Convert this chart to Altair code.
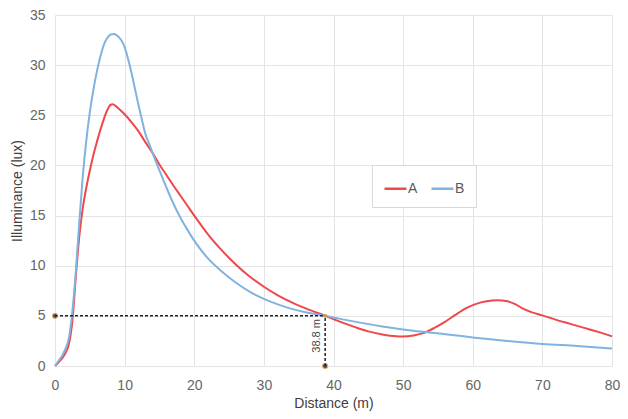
import altair as alt
import pandas as pd

# Series A (red)
a_x = [0, 0.5, 1, 1.5, 2, 2.5, 3, 3.5, 4, 4.5, 5, 5.5, 6, 6.5, 7, 7.5, 8, 8.3, 9, 10, 11, 12,
       13, 14.2, 15, 16, 17, 18, 19, 20, 22, 24, 26, 28, 30, 32, 34, 36, 38.8, 41, 43, 45, 47,
       49, 50, 51.5, 53, 54.5, 56, 57.5, 59, 60.5, 62, 63.5, 65, 66, 67, 68.5, 70, 72, 74, 76,
       78, 80]
a_y = [0, 0.35, 0.75, 1.3, 2.2, 4.5, 9, 13, 15.8, 17.8, 19.5, 21, 22.3, 23.5, 24.6, 25.5, 26.05,
       26.1, 25.75, 25.1, 24.3, 23.4, 22.3, 21.05, 20.1, 19.05, 18, 17, 16, 15, 13.1, 11.5, 10.1,
       8.9, 7.9, 7.05, 6.35, 5.75, 5.0, 4.4, 3.9, 3.45, 3.15, 2.97, 2.95, 3.05, 3.3, 3.8, 4.4,
       5.1, 5.75, 6.2, 6.45, 6.55, 6.45, 6.2, 5.8, 5.35, 5.05, 4.6, 4.2, 3.8, 3.4, 2.95]

# Series B (blue)
b_x = [0, 0.5, 1, 1.5, 2, 2.5, 3, 3.5, 4, 4.5, 5, 5.5, 6, 6.5, 7, 7.5, 8, 8.5, 9, 9.5, 10,
       10.5, 11, 11.5, 12, 12.5, 13, 13.5, 14.2, 15, 16, 17, 18, 19, 20, 22, 24, 26, 28, 30,
       32, 34, 36, 38.8, 41, 44, 47, 50, 53.7, 57, 60, 65, 70, 75, 80]
b_y = [0, 0.5, 1.0, 1.7, 2.8, 5.5, 9.5, 14.5, 19, 22.5, 25.3, 27.5, 29.3, 30.8, 32, 32.7, 33.05,
       33.1, 32.9, 32.5, 31.8, 30.6, 29.2, 27.6, 26, 24.5, 23.1, 22.2, 20.9, 19.5, 17.8, 16.2,
       14.8, 13.6, 12.5, 10.7, 9.4, 8.3, 7.4, 6.7, 6.15, 5.7, 5.35, 5.0, 4.7, 4.3, 3.95, 3.65,
       3.35, 3.1, 2.85, 2.5, 2.2, 2.0, 1.75]

series_names = ["A", "B"]
series_colors = ["#f0474c", "#80b3e0"]

x_ticks = [0, 10, 20, 30, 40, 50, 60, 70, 80]
y_ticks = [0, 5, 10, 15, 20, 25, 30, 35]

# Annotation
mark_x = [38.8]
mark_y = [5]
mark_label = ["38.8 m"]
label_pos = [37.7, 3.0]

df = pd.concat([
    pd.DataFrame({"x": a_x, "y": a_y, "s": "A"}),
    pd.DataFrame({"x": b_x, "y": b_y, "s": "B"}),
])

xscale = alt.Scale(domain=[0, 80], nice=False)
yscale = alt.Scale(domain=[0, 35], nice=False)

lines = alt.Chart(df).mark_line(strokeWidth=2, interpolate="monotone").encode(
    x=alt.X("x:Q", scale=xscale,
            axis=alt.Axis(values=x_ticks, title="Distance (m)", labelPadding=12,
                          titlePadding=4, labelFlush=False)),
    y=alt.Y("y:Q", scale=yscale,
            axis=alt.Axis(values=y_ticks, title="Illuminance (lux)", labelPadding=10,
                          titlePadding=5)),
    color=alt.Color("s:N", scale=alt.Scale(domain=series_names, range=series_colors),
                    legend=alt.Legend(title=None, orient="none", legendX=317, legendY=150,
                                      direction="horizontal", symbolType="stroke",
                                      symbolSize=484, symbolStrokeWidth=2.5,
                                      labelOffset=0, columnPadding=8, padding=11,
                                      strokeColor="#d9d9d9", fillColor="white",
                                      labelFontSize=14, labelColor="#595959")),
)

hline = pd.DataFrame({"x": [0], "x2": mark_x, "y": mark_y, "y2": mark_y})
vline = pd.DataFrame({"x": mark_x, "x2": mark_x, "y": [0], "y2": mark_y})
rules_df = pd.concat([hline, vline])
rules = alt.Chart(rules_df).mark_rule(color="#222222", strokeWidth=1.5,
                                      strokeDash=[3, 2]).encode(
    x=alt.X("x:Q", scale=xscale), x2="x2:Q",
    y=alt.Y("y:Q", scale=yscale), y2="y2:Q",
)

end_pts = pd.DataFrame({"x": [0, mark_x[0]], "y": [mark_y[0], 0]})
pts = alt.Chart(end_pts).mark_point(filled=True, size=28, color="#111111",
                                    stroke="#e8902f", strokeWidth=1).encode(
    x=alt.X("x:Q", scale=xscale), y=alt.Y("y:Q", scale=yscale))

cross = pd.DataFrame({"x": mark_x, "y": mark_y})
cross_pt = alt.Chart(cross).mark_point(filled=True, size=18, color="#e8902f").encode(
    x=alt.X("x:Q", scale=xscale), y=alt.Y("y:Q", scale=yscale))

lab = pd.DataFrame({"x": [label_pos[0]], "y": [label_pos[1]], "t": mark_label})
text = alt.Chart(lab).mark_text(angle=270, fontSize=11, color="#444444",
                                align="center", baseline="middle").encode(
    x=alt.X("x:Q", scale=xscale), y=alt.Y("y:Q", scale=yscale), text="t:N")

chart = alt.layer(lines, rules, pts, cross_pt, text).properties(
    width=557, height=351,
    autosize=alt.AutoSizeParams(type="none"),
    padding={"left": 47, "top": 7, "right": 8, "bottom": 45},
).configure_view(stroke=None).configure_axis(
    domain=False, ticks=False, gridColor="#e4e4e4", gridWidth=1,
    labelColor="#666666", labelFontSize=14, labelFont="Liberation Sans",
    titleColor="#404040", titleFontSize=14, titleFont="Liberation Sans",
    titleFontWeight="normal",
).configure_legend(labelFont="Liberation Sans")

chart.save("out.html", embed_options={"renderer": "svg", "actions": False})
